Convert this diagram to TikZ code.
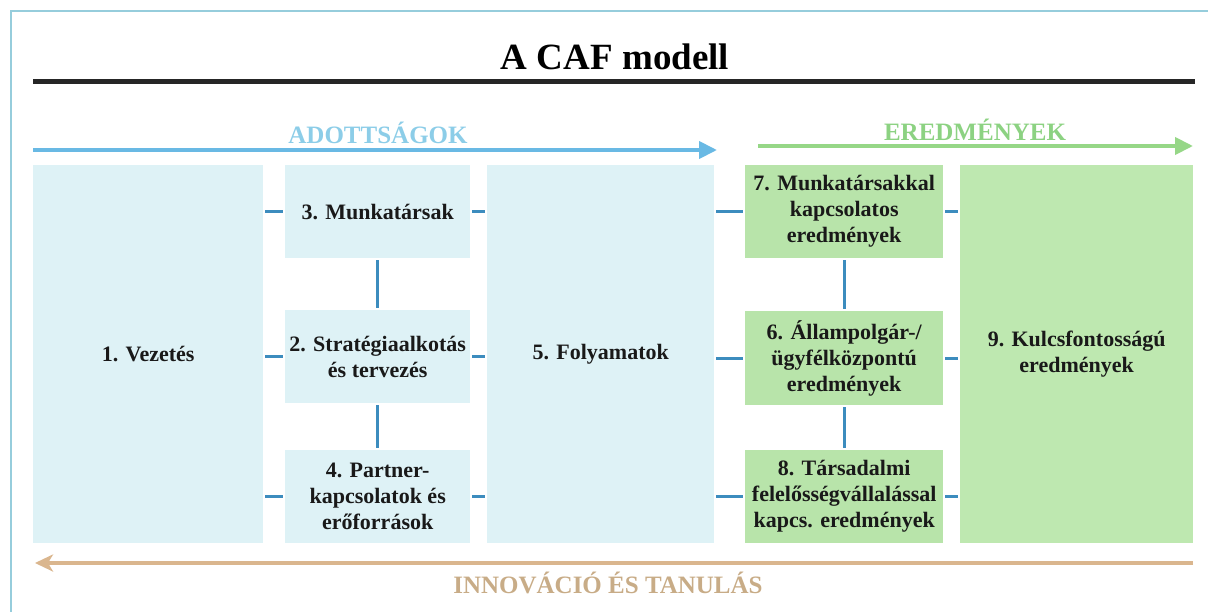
\documentclass[tikz,border=0pt]{standalone}
\usepackage{fontspec}
\setmainfont{Liberation Serif}
\usetikzlibrary{arrows.meta}
\definecolor{frameblue}{RGB}{150,205,220}
\definecolor{boxblue}{RGB}{222,242,246}
\definecolor{boxgreen}{RGB}{184,228,170}
\definecolor{boxgreenb}{RGB}{190,232,176}
\definecolor{connblue}{RGB}{60,140,190}
\definecolor{arrblue}{RGB}{105,185,228}
\definecolor{txtblue}{RGB}{140,205,232}
\definecolor{arrgreen}{RGB}{150,215,135}
\definecolor{txtgreen}{RGB}{140,210,130}
\definecolor{arrtan}{RGB}{218,182,142}
\definecolor{txttan}{RGB}{200,172,135}
\definecolor{txtdark}{RGB}{25,25,25}
\tikzset{
  cell/.style={anchor=north west, inner sep=0pt, align=center, text=txtdark,
    font=\fontsize{22}{26}\selectfont\bfseries},
  bluecell/.style={cell, fill=boxblue},
  greencell/.style={cell, fill=boxgreen},
  conn/.style={draw=connblue, line width=2.6pt, shorten <=2pt, shorten >=2pt},
  bigarrow/.style={line width=4pt, -{Triangle[length=18pt,width=17pt]}},
  headtext/.style={font=\fontsize{25}{28}\selectfont\bfseries}
}
\begin{document}
\begin{tikzpicture}[x=1pt,y=-1pt]
\useasboundingbox (0,0) rectangle (1208,611);
% frame
\draw[frameblue, line width=1.5pt] (11,640) -- (11,11) -- (1215,11);
% title
\node[font=\fontsize{37}{40}\selectfont\bfseries, text=black] (title) at (615,57) {A CAF modell};
\coordinate (ruleL) at (33,81);
\coordinate (ruleR) at (1195,81);
\draw[black!85, line width=5pt] (ruleL) -- (ruleR);
% top arrows
\node[headtext, text=txtblue] (adott) at (378,133) {ADOTTSÁGOK};
\coordinate (abL) at (33,150);
\coordinate (abR) at (717,150);
\draw[bigarrow, arrblue] (abL) -- (abR);
\node[headtext, text=txtgreen] (ered) at (975,130) {EREDMÉNYEK};
\coordinate (agL) at (758,146);
\coordinate (agR) at (1193,146);
\draw[bigarrow, arrgreen] (agL) -- (agR);
% boxes
\node[bluecell, minimum width=230pt, minimum height=378pt] (n1) at (33,165) {1. Vezetés};
\node[bluecell, minimum width=185pt, minimum height=93pt] (n3) at (285,165) {3. Munkatársak};
\node[bluecell, minimum width=185pt, minimum height=93pt] (n2) at (285,310) {2. Stratégiaalkotás\\és tervezés};
\node[bluecell, minimum width=185pt, minimum height=93pt] (n4) at (285,450) {4. Partner-\\kapcsolatok és\\erőforrások};
\node[bluecell, minimum width=227pt, minimum height=378pt] (n5) at (487,165) {5. Folyamatok};
\node[greencell, minimum width=198pt, minimum height=93pt] (n7) at (745,165) {7. Munkatársakkal\\kapcsolatos\\eredmények};
\node[greencell, minimum width=198pt, minimum height=94pt] (n6) at (745,311) {6. Állampolgár-/\\ügyfélközpontú\\eredmények};
\node[greencell, minimum width=198pt, minimum height=93pt] (n8) at (745,450) {8. Társadalmi\\felelősségvállalással\\kapcs. eredmények};
\node[cell, fill=boxgreenb, minimum width=233pt, minimum height=378pt] (n9) at (960,165) {9. Kulcsfontosságú\\eredmények};
% connectors left column
\draw[conn] (n3.west -| n1.east) -- (n3.west);
\draw[conn] (n2.west -| n1.east) -- (n2.west);
\draw[conn] (n4.west -| n1.east) -- (n4.west);
\draw[conn] (n3.east) -- (n3.east -| n5.west);
\draw[conn] (n2.east) -- (n2.east -| n5.west);
\draw[conn] (n4.east) -- (n4.east -| n5.west);
\draw[conn] (n3.south) -- (n2.north);
\draw[conn] (n2.south) -- (n4.north);
% connectors right
\draw[conn] (n7.west -| n5.east) -- (n7.west);
\draw[conn] (n6.west -| n5.east) -- (n6.west);
\draw[conn] (n8.west -| n5.east) -- (n8.west);
\draw[conn] (n7.east) -- (n7.east -| n9.west);
\draw[conn] (n6.east) -- (n6.east -| n9.west);
\draw[conn] (n8.east) -- (n8.east -| n9.west);
\draw[conn] (n7.south) -- (n6.north);
\draw[conn] (n6.south) -- (n8.north);
% bottom arrow
\coordinate (btR) at (1193,563);
\coordinate (btL) at (35,563);
\draw[arrtan, line width=3.5pt, -{Stealth[length=18pt,width=17pt,inset=5pt]}] (btR) -- (btL);
\node[headtext, text=txttan] (innov) at (608,583) {INNOVÁCIÓ ÉS TANULÁS};
\end{tikzpicture}
\end{document}
